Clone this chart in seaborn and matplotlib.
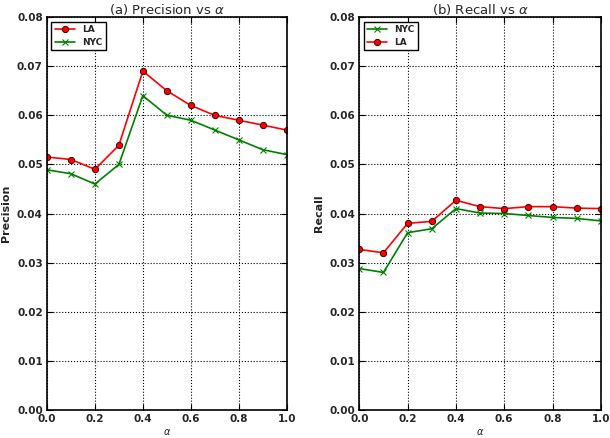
import numpy as np
import pandas as pd
import matplotlib
matplotlib.use('Agg')
import matplotlib.pyplot as plt
import seaborn as sns

# values
alpha = [0.0, 0.1, 0.2, 0.3, 0.4, 0.5, 0.6, 0.7, 0.8, 0.9, 1.0]
prec_la = [0.0515, 0.0510, 0.0490, 0.0539, 0.0690, 0.0650, 0.0620, 0.0600, 0.0590, 0.0580, 0.0570]
prec_nyc = [0.0489, 0.0481, 0.0460, 0.0500, 0.0640, 0.0600, 0.0590, 0.0570, 0.0550, 0.0530, 0.0520]
rec_la = [0.0327, 0.0320, 0.0380, 0.0384, 0.0427, 0.0414, 0.0410, 0.0414, 0.0414, 0.0411, 0.0410]
rec_nyc = [0.0288, 0.0280, 0.0361, 0.0369, 0.0410, 0.0401, 0.0400, 0.0396, 0.0392, 0.0390, 0.0385]
x_ticks = [0.0, 0.2, 0.4, 0.6, 0.8, 1.0]
y_ticks = [0.00, 0.01, 0.02, 0.03, 0.04, 0.05, 0.06, 0.07, 0.08]

sns.set_style("white")
plt.rcParams['font.family'] = ['DejaVu Sans']
plt.rcParams['mathtext.fontset'] = 'dejavusans'

fig = plt.figure(figsize=(6.1, 4.38), dpi=100)
ax1 = fig.add_axes([0.077, 0.064, 0.393, 0.897])
ax2 = fig.add_axes([0.589, 0.064, 0.396, 0.897])

la_style = dict(color='red', marker='o', markersize=4.5, markeredgecolor='#400000',
                markeredgewidth=0.7, linewidth=1.2, linestyle='-')
nyc_style = dict(color='green', marker='x', markersize=4, markeredgecolor='green',
                 markeredgewidth=0.8, linewidth=1.2, linestyle='-')


def draw(ax, la, nyc, order, title, ylabel):
    df = pd.DataFrame({'alpha': alpha, 'LA': la, 'NYC': nyc})
    for name in order:
        st = la_style if name == 'LA' else nyc_style
        sns.lineplot(data=df, x='alpha', y=name, ax=ax, label=name, **st)
    ax.set_xlim(0, 1)
    ax.set_ylim(0, 0.08)
    ax.set_xticks(x_ticks)
    ax.set_yticks(y_ticks)
    ax.set_xticklabels([f'{t:.1f}' for t in x_ticks], fontweight='bold', fontsize=7.5)
    ax.set_yticklabels([f'{t:.2f}' for t in y_ticks], fontweight='bold', fontsize=7.5)
    ax.grid(True, color='black', linestyle=':', linewidth=0.8)
    for s in ax.spines.values():
        s.set_color('black')
        s.set_linewidth(1.2)
    ax.tick_params(direction='in', length=4, color='black', pad=3,
                   top=True, right=True, bottom=True, left=True)
    ax.set_title(title, fontsize=9.5, pad=2)
    ax.set_xlabel(r'$\alpha$', fontsize=7, fontweight='bold', labelpad=2)
    ax.set_ylabel(ylabel, fontsize=8, fontweight='bold', labelpad=4)
    leg = ax.legend(loc='upper left', frameon=True, fancybox=False,
                    handlelength=2.2, borderpad=0.4, labelspacing=0.4,
                    borderaxespad=0.5, prop={'weight': 'bold', 'size': 6.5})
    leg.get_frame().set_edgecolor('black')
    leg.get_frame().set_linewidth(1.0)
    leg.get_frame().set_alpha(1.0)


draw(ax1, prec_la, prec_nyc, ['LA', 'NYC'], r'(a) Precision vs $\alpha$', 'Precision')
draw(ax2, rec_la, rec_nyc, ['NYC', 'LA'], r'(b) Recall vs $\alpha$', 'Recall')

fig.savefig('out.png', dpi=100)
